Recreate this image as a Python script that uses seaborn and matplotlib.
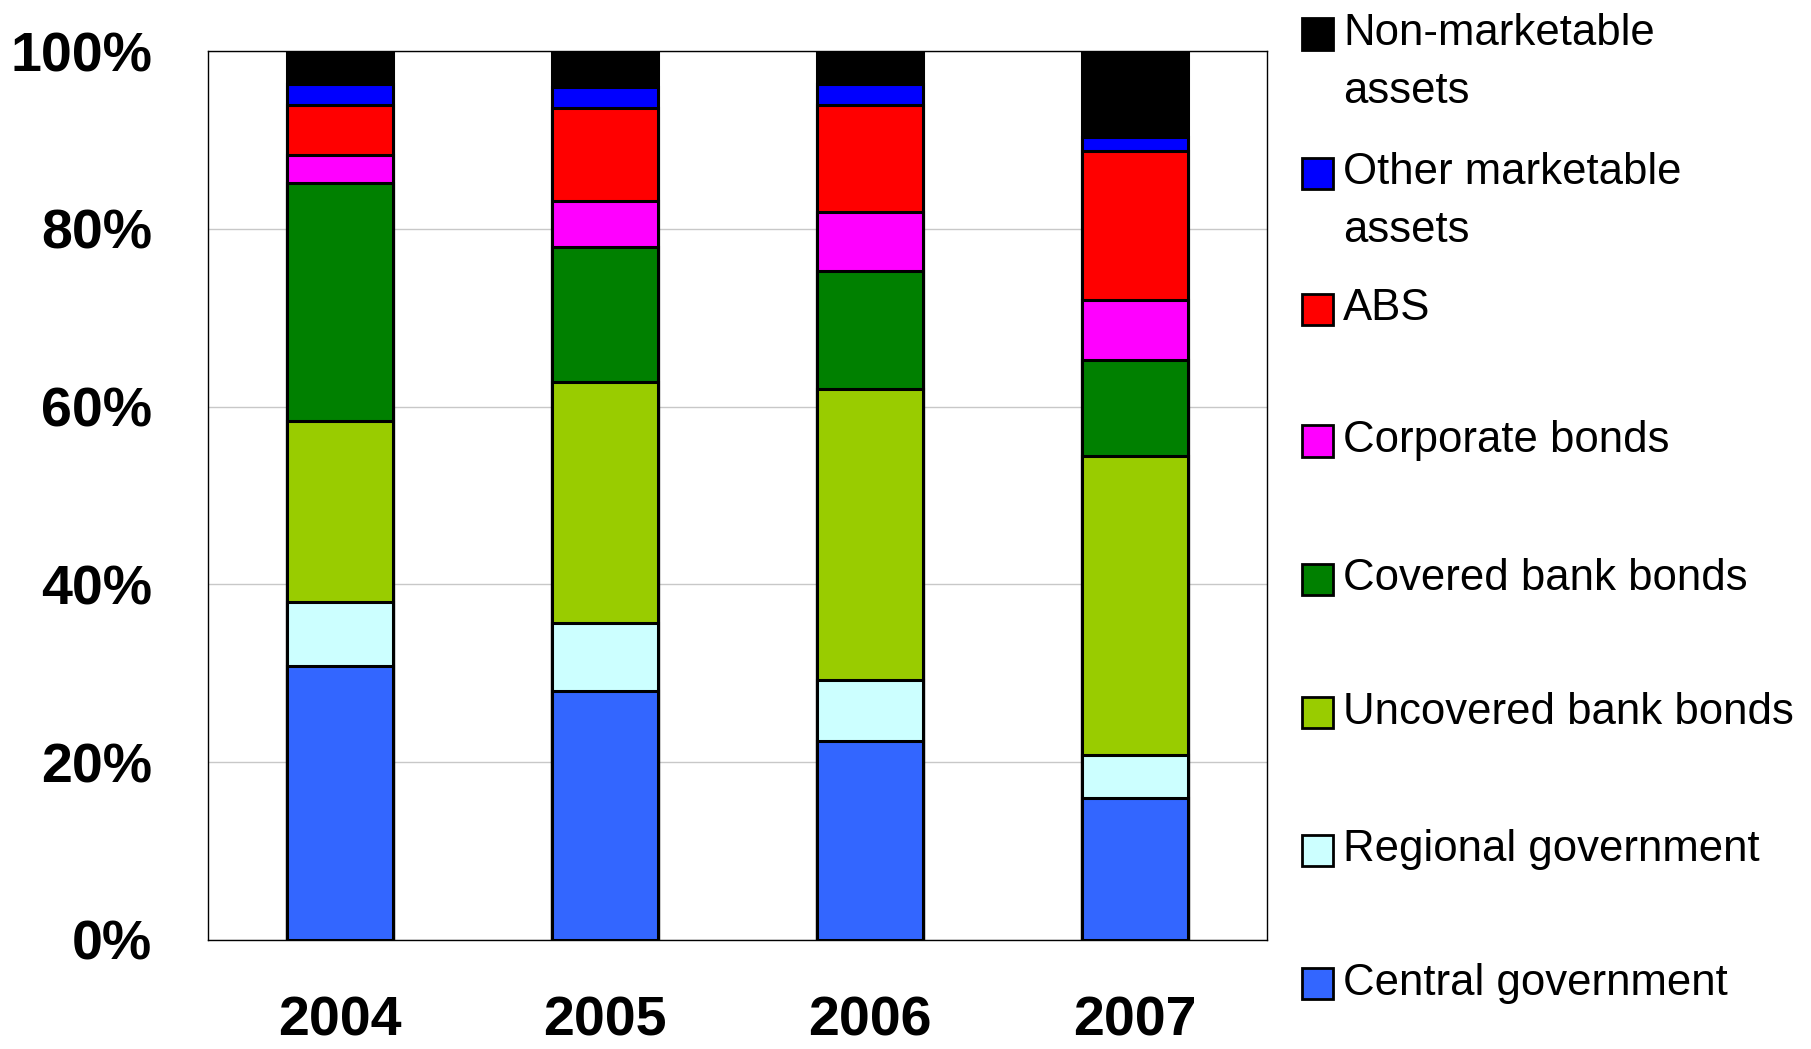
import numpy as np
import pandas as pd
import matplotlib
matplotlib.use("Agg")
import matplotlib.pyplot as plt
from matplotlib.patches import Rectangle
import seaborn as sns

# ---- data (shares in %, bottom to top) ----
years = ["2004", "2005", "2006", "2007"]
series = ["Central government", "Regional government", "Uncovered bank bonds",
          "Covered bank bonds", "Corporate bonds", "ABS",
          "Other marketable\nassets", "Non-marketable\nassets"]
central_gov = [30.8, 28.0, 22.4, 16.0]
regional_gov = [7.2, 7.7, 6.8, 4.8]
uncovered_bank = [20.4, 27.1, 32.8, 33.6]
covered_bank = [26.8, 15.2, 13.2, 10.8]
corporate = [3.1, 5.1, 6.7, 6.8]
abs_ = [5.6, 10.5, 12.0, 16.8]
other_mkt = [2.35, 2.3, 2.35, 1.5]
non_mkt = [3.75, 4.1, 3.75, 9.7]
colors = ["#3366FF", "#CCFFFF", "#99CC00", "#008000", "#FF00FF", "#FF0000",
          "#0000FF", "#000000"]
yticks = [0, 20, 40, 60, 80, 100]

values = [central_gov, regional_gov, uncovered_bank, covered_bank,
          corporate, abs_, other_mkt, non_mkt]

sns.set_theme(style="white")
plt.rcParams["font.family"] = ["Liberation Sans", "DejaVu Sans"]
plt.rcParams["text.color"] = "black"
plt.rcParams["xtick.color"] = "black"
plt.rcParams["ytick.color"] = "black"
plt.rcParams["xtick.labelcolor"] = "black"
plt.rcParams["ytick.labelcolor"] = "black"

W, H = 1811, 1049
fig = plt.figure(figsize=(W / 100, H / 100), dpi=100)
ax = fig.add_axes([208 / W, 1 - 940 / H, 1059 / W, 889 / H])

cum = np.cumsum(np.array(values), axis=0)
# draw from top layer down so lower segments overlay
for i in range(len(series) - 1, -1, -1):
    df = pd.DataFrame({"year": years, "value": cum[i]})
    sns.barplot(data=df, x="year", y="value", color=colors[i], width=0.4,
                edgecolor="black", linewidth=2.2, saturation=1, ax=ax,
                zorder=3)

ax.set_xlim(-0.5, 3.5)
ax.set_ylim(0, 100)
ax.set_yticks(yticks)
ax.set_yticklabels([f"{t}%" for t in yticks], fontsize=40, fontweight="bold",
                   color="black")
ax.set_xticklabels(years, fontsize=40, fontweight="bold", color="black")
ax.tick_params(axis="y", length=0, pad=40)
ax.tick_params(axis="x", length=0, pad=40)
ax.set_xlabel("")
ax.set_ylabel("")
ax.yaxis.grid(True, color="#C8C8C8", linewidth=1.0, zorder=0)
ax.xaxis.grid(False)
ax.set_axisbelow(True)
for sp in ax.spines.values():
    sp.set_visible(True)
    sp.set_color("black")
    sp.set_linewidth(1.0)

# ---- legend (top to bottom) ----
centers = [34, 173.5, 309.5, 441, 579, 712.5, 850, 983.6]
msize = 31
for k, idx in enumerate(range(len(series) - 1, -1, -1)):
    cy = centers[k]
    fig.add_artist(Rectangle(((1302) / W, 1 - (cy + msize / 2) / H),
                             msize / W, msize / H, transform=fig.transFigure,
                             facecolor=colors[idx], edgecolor="black",
                             linewidth=2.0))
    lines = series[idx].split("\n")
    for j, line in enumerate(lines):
        fig.text(1343 / W, 1 - (cy + 11 + j * 58) / H, line, fontsize=31.5,
                 va="baseline", ha="left", color="black")

fig.savefig("out.png", dpi=100, facecolor="white")
